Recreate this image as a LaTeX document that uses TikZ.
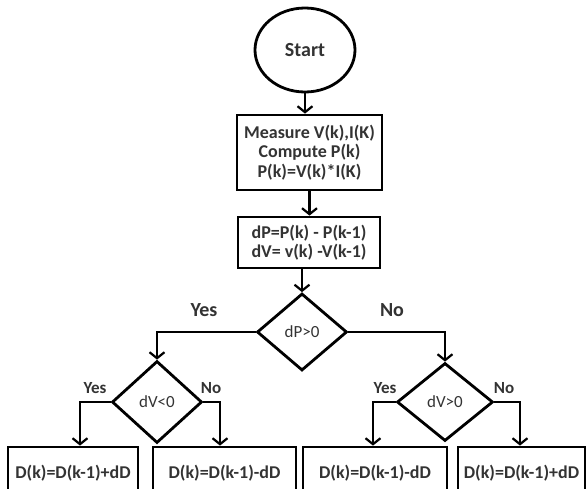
\documentclass[tikz,border=0pt]{standalone}
\usepackage{fontspec}
\setmainfont{Carlito}
\usetikzlibrary{shapes.geometric,arrows.meta}
\tikzset{
  ln/.style={line width=2.6pt},
  arr/.style={ln,-{Straight Barb[length=6pt,width=15pt,line width=2.2pt]}},
  bx/.style={draw,line width=2.8pt,rectangle,inner sep=0pt,align=center,font=\fontsize{18}{19.5}\selectfont\bfseries,text=black!80},
  dm/.style={draw,line width=2.8pt,diamond,inner sep=0pt,font=\fontsize{17}{19}\selectfont,text=black!80},
  lbig/.style={font=\fontsize{20}{22}\selectfont\bfseries,text=black!80},
  lsmall/.style={font=\fontsize{17}{19}\selectfont\bfseries,text=black!80},
}
\begin{document}
\begin{tikzpicture}[x=1pt,y=-1pt]
\useasboundingbox (0,0) rectangle (587,488);
\clip (0,0) rectangle (587,488);
\node[draw,line width=2.8pt,ellipse,minimum width=100pt,minimum height=84pt,font=\fontsize{20}{22}\selectfont\bfseries,text=black!80] (start) at (305,50) {Start};
\node[bx,minimum width=145pt,minimum height=75pt] (b1) at (309.5,152.5) {Measure V(k),I(K)\\Compute P(k)\\P(k)=V(k)*I(K)};
\node[bx,minimum width=142pt,minimum height=51pt] (b2) at (309,242.5) {dP=P(k) - P(k-1)\\dV= v(k) -V(k-1)};
\node[dm,minimum width=90pt,minimum height=77pt] (d1) at (302,332) {dP>0};
\node[dm,minimum width=90pt,minimum height=82pt] (d2) at (157,402) {dV<0};
\node[dm,minimum width=96pt,minimum height=78pt] (d3) at (445,402) {dV>0};
\node[bx,minimum width=130pt,minimum height=52pt] (A) at (73,473) {D(k)=D(k-1)+dD};
\node[bx,minimum width=143pt,minimum height=52pt] (B) at (224.5,473) {D(k)=D(k-1)-dD};
\node[bx,minimum width=144pt,minimum height=52pt] (C) at (375,473) {D(k)=D(k-1)-dD};
\node[bx,minimum width=127pt,minimum height=52pt] (D) at (521.5,473) {D(k)=D(k-1)+dD};
\draw[arr] (start) -- (start|-b1.north);
\draw[arr] (b1) -- (b1|-b2.north);
\draw[arr] (b2.south-|d1.north) -- (d1.north);
\draw[arr] (d1.west) -| (d2.north);
\draw[arr] (d1.east) -| (d3.north);
\coordinate (ya) at (80,448);
\coordinate (yb) at (220,448);
\coordinate (yc) at (373,448);
\coordinate (yd) at (520,448);
\draw[arr] (d2.west) -| (A.north-|ya);
\draw[arr] (d2.east) -| (B.north-|yb);
\draw[arr] (d3.west) -| (C.north-|yc);
\draw[arr] (d3.east) -| (D.north-|yd);
\node[lbig] (yes1) at (204,310) {Yes};
\node[lbig] (no1) at (392,310) {No};
\node[lsmall] (yes2) at (95,388) {Yes};
\node[lsmall] (no2) at (211,388) {No};
\node[lsmall] (yes3) at (385,388) {Yes};
\node[lsmall] (no3) at (504,388) {No};
\end{tikzpicture}
\end{document}
